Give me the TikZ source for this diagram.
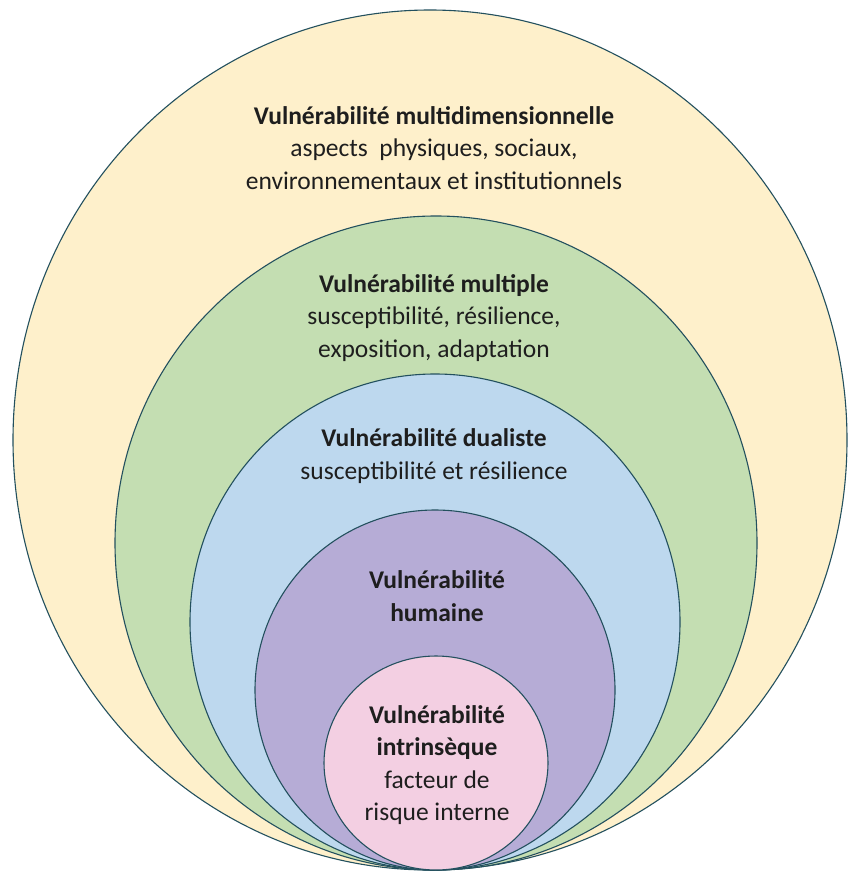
\documentclass[tikz,border=0pt]{standalone}
\usepackage{fontspec}
\setmainfont{Carlito}
\definecolor{cyel}{HTML}{FEF0CB}
\definecolor{cgrn}{HTML}{C4DEB2}
\definecolor{cblu}{HTML}{BDD8EE}
\definecolor{cpur}{HTML}{B6ACD6}
\definecolor{cpnk}{HTML}{F3CFE2}
\definecolor{cline}{HTML}{23505E}
\definecolor{ctxt}{HTML}{1E1E1E}
\begin{document}
\begin{tikzpicture}[x=1pt,y=-1pt,
  ring/.style={draw=cline,line width=1.1pt},
  lbl/.style={align=center,text=ctxt,font=\fontsize{25.5}{32.5}\selectfont,inner sep=0pt}]
\useasboundingbox (0,0) rectangle (851,872);
\fill[white] (0,0) rectangle (851,872);
\filldraw[ring,fill=cyel] (430,440) ellipse [x radius=417, y radius=430];
\filldraw[ring,fill=cgrn] (436,543) ellipse [x radius=321, y radius=327];
\filldraw[ring,fill=cblu] (435,622) ellipse [x radius=245, y radius=248];
\filldraw[ring,fill=cpur] (435,690) ellipse [x radius=180, y radius=180];
\filldraw[ring,fill=cpnk] (436,763) ellipse [x radius=112, y radius=107];
\node[lbl] (t1) at (434,148) {\textbf{Vulnérabilité multidimensionnelle}\\aspects\ \ physiques, sociaux,\\environnementaux et institutionnels};
\node[lbl] (t2) at (434,318) {\textbf{Vulnérabilité multiple}\\susceptibilité, résilience,\\exposition, adaptation};
\node[lbl] (t3) at (434,456) {\textbf{Vulnérabilité dualiste}\\susceptibilité et résilience};
\node[lbl] (t4) at (437,596) {\textbf{Vulnérabilité}\\\textbf{humaine}};
\node[lbl] (t5) at (437,765) {\textbf{Vulnérabilité}\\\textbf{intrinsèque}\\facteur de\\risque interne};
\end{tikzpicture}
\end{document}
